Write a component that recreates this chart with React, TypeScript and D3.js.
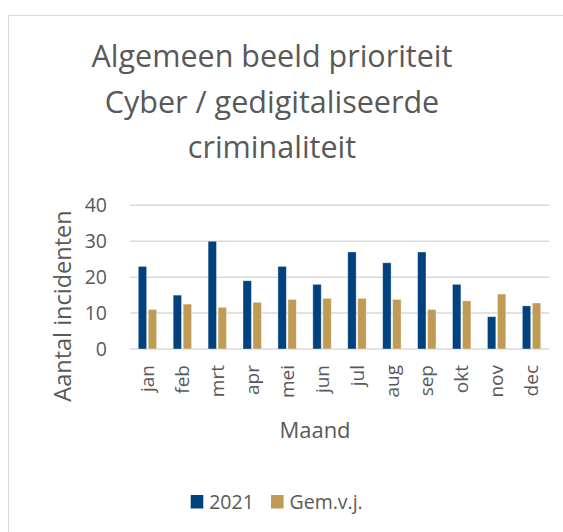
import React, { useEffect, useRef } from 'react';
import * as d3 from 'd3';

const months = ['jan', 'feb', 'mrt', 'apr', 'mei', 'jun', 'jul', 'aug', 'sep', 'okt', 'nov', 'dec'];
const series = ['2021', 'Gem.v.j.'];
const values2021 = [23, 15, 30, 19, 23, 18, 27, 24, 27, 18, 9, 12];
const valuesAvg = [11, 12.5, 11.6, 13, 13.8, 14.1, 14.1, 13.8, 11, 13.4, 15.3, 12.8];
const yTicks = [0, 10, 20, 30, 40];
const titleLines = ['Algemeen beeld prioriteit', 'Cyber / gedigitaliseerde', 'criminaliteit'];

const colors = ['#00427E', '#BF9B55'];
const textColor = '#595959';
const font = '"Open Sans", sans-serif';

const width = 563;
const height = 532;

const drawChart = (el: SVGSVGElement) => {
	const svg = d3.select(el);
	svg.selectAll('*').remove();

	// chart area border (runs off the right and bottom edge)
	svg.append('rect')
		.attr('x', 8.5).attr('y', 15.5)
		.attr('width', 600).attr('height', 600)
		.attr('fill', '#fff')
		.attr('stroke', '#d9d9d9');

	const title = svg.append('text')
		.attr('font-family', font)
		.attr('font-size', 30.5)
		.attr('fill', textColor)
		.attr('text-anchor', 'middle');
	titleLines.forEach((line, i) => {
		title.append('tspan').attr('x', 272).attr('y', 67 + (i * 45.5)).text(line);
	});

	const x0 = d3.scaleBand().domain(months).range([130, 549]);
	const x1 = d3.scaleBand().domain(series)
		.range([0, x0.bandwidth()])
		.paddingInner(0.16)
		.paddingOuter(0.825);
	const y = d3.scaleLinear().domain([0, 40]).range([349, 205.3]);

	// gridlines
	svg.append('g')
		.selectAll('line')
		.data(yTicks)
		.join('line')
		.attr('x1', 130).attr('x2', 549)
		.attr('y1', (d) => y(d)).attr('y2', (d) => y(d))
		.attr('stroke', '#d9d9d9')
		.attr('stroke-width', 1.5);

	svg.append('g')
		.selectAll('text')
		.data(yTicks)
		.join('text')
		.attr('x', 107)
		.attr('y', (d) => y(d))
		.attr('dy', '0.35em')
		.attr('text-anchor', 'end')
		.attr('font-family', font)
		.attr('font-size', 19.5)
		.attr('fill', textColor)
		.text((d) => d);

	const data = months.map((m, i) => ({ month: m, vals: [values2021[i], valuesAvg[i]] }));

	const groups = svg.append('g')
		.selectAll('g')
		.data(data)
		.join('g')
		.attr('transform', (d) => `translate(${ x0(d.month) },0)`);

	groups.selectAll('rect')
		.data((d) => d.vals.map((v, i) => ({ key: series[i], v, i })))
		.join('rect')
		.attr('x', (d) => x1(d.key))
		.attr('width', x1.bandwidth())
		.attr('y', (d) => y(d.v))
		.attr('height', (d) => y(0) - y(d.v))
		.attr('fill', (d) => colors[d.i])
		.attr('stroke', '#ffffff')
		.attr('stroke-opacity', 0.5)
		.attr('stroke-width', 0.75);

	// month labels, rotated
	svg.append('g')
		.selectAll('text')
		.data(months)
		.join('text')
		.attr('transform', (d) => `translate(${ x0(d) + (x0.bandwidth() / 2) },365) rotate(-90)`)
		.attr('dy', '0.35em')
		.attr('text-anchor', 'end')
		.attr('font-family', font)
		.attr('font-size', 19)
		.attr('fill', textColor)
		.text((d) => d);

	svg.append('text')
		.attr('x', 315).attr('y', 438)
		.attr('text-anchor', 'middle')
		.attr('font-family', font)
		.attr('font-size', 22)
		.attr('fill', textColor)
		.text('Maand');

	svg.append('text')
		.attr('transform', 'translate(71,306) rotate(-90)')
		.attr('text-anchor', 'middle')
		.attr('font-family', font)
		.attr('font-size', 23.5)
		.attr('fill', textColor)
		.text('Aantal incidenten');

	// legend
	const legendX = [190.7, 271];
	const legend = svg.append('g')
		.selectAll('g')
		.data(series)
		.join('g')
		.attr('transform', (d, i) => `translate(${ legendX[i] },495)`);
	legend.append('rect')
		.attr('width', 12.6).attr('height', 13.5)
		.attr('fill', (d, i) => colors[i]);
	legend.append('text')
		.attr('x', 18.5).attr('y', 13.5)
		.attr('font-family', font)
		.attr('font-size', 19.5)
		.attr('fill', textColor)
		.text((d) => d);
};

const App = () => {
	const ref = useRef<SVGSVGElement>(null);

	useEffect(() => {
		if (ref.current) drawChart(ref.current);
	}, []);

	return (
		<svg ref={ ref } width={ width } height={ height }
			style={ { position: 'absolute', left: 0, top: 0, background: '#fff' } }/>
	);
};

export default App;
